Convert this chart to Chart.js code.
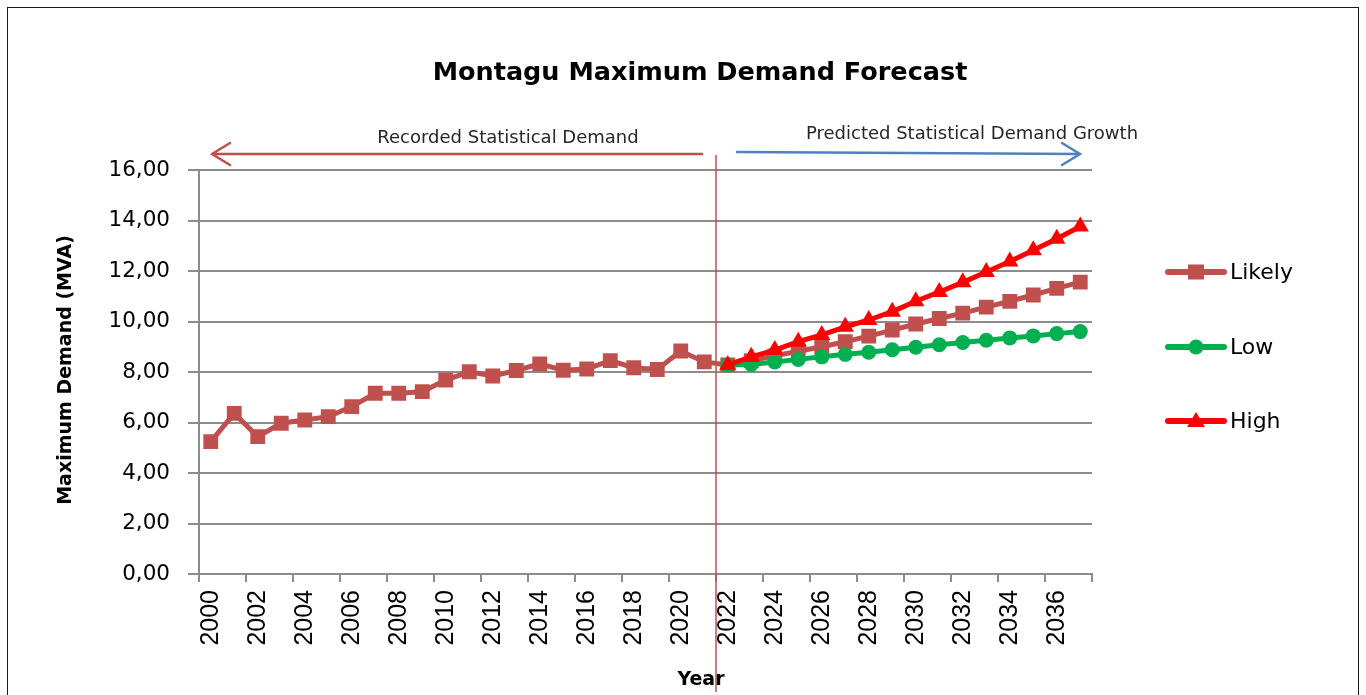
<!DOCTYPE html>
<html>
<head>
<meta charset="utf-8">
<title>Montagu Maximum Demand Forecast</title>
<script src="https://cdn.jsdelivr.net/npm/chart.js@4.4.1/dist/chart.umd.min.js"></script>
<style>
  html, body { margin: 0; padding: 0; background: #fff; overflow: hidden; }
  #wrap { position: relative; width: 1366px; height: 695px; }
  #frame { position: absolute; left: 7px; top: 7px; width: 1352px; height: 720px; border: 1px solid #1a1a1a; box-sizing: border-box; }
  #demandChart { position: absolute; left: 0; top: 0; }
</style>
</head>
<body>
<div id="wrap">
  <div id="frame"></div>
  <canvas id="demandChart" width="1366" height="695"></canvas>
</div>
<script>
const years = ["2000", "2001", "2002", "2003", "2004", "2005", "2006", "2007", "2008", "2009",
  "2010", "2011", "2012", "2013", "2014", "2015", "2016", "2017", "2018", "2019",
  "2020", "2021", "2022", "2023", "2024", "2025", "2026", "2027", "2028", "2029",
  "2030", "2031", "2032", "2033", "2034", "2035", "2036", "2037"];

const likely = [5.24, 6.36, 5.44, 5.97, 6.10, 6.23, 6.63, 7.16, 7.16, 7.22,
  7.68, 8.01, 7.84, 8.06, 8.32, 8.07, 8.12, 8.45, 8.17, 8.10,
  8.83, 8.40, 8.28, 8.45, 8.64, 8.82, 9.00, 9.20, 9.42, 9.66,
  9.90, 10.12, 10.33, 10.57, 10.80, 11.05, 11.31, 11.56];

const low = [null, null, null, null, null, null, null, null, null, null,
  null, null, null, null, null, null, null, null, null, null,
  null, null, 8.28, 8.30, 8.40, 8.50, 8.60, 8.70, 8.78, 8.88,
  8.98, 9.08, 9.17, 9.26, 9.35, 9.43, 9.52, 9.60];

const high = [null, null, null, null, null, null, null, null, null, null,
  null, null, null, null, null, null, null, null, null, null,
  null, null, 8.28, 8.60, 8.87, 9.20, 9.47, 9.79, 10.06, 10.39,
  10.80, 11.17, 11.55, 11.96, 12.38, 12.82, 13.28, 13.76];

const yTicks = [0, 2, 4, 6, 8, 10, 12, 14, 16];
const forecastStart = "2022";

const likelyColor = "#c0504d";
const lowColor = "#00b050";
const highColor = "#ff0000";
const gridColor = "#8c8c8c";
const labelFont = "DejaVu Sans";

function drawMarker(ctx, style, x, y, color) {
  ctx.fillStyle = color;
  ctx.beginPath();
  if (style === "rect") {
    ctx.rect(x - 8, y - 7.5, 16, 15);
  } else if (style === "circle") {
    ctx.arc(x, y, 7.5, 0, Math.PI * 2);
  } else {
    ctx.moveTo(x, y - 9);
    ctx.lineTo(x + 9, y + 6);
    ctx.lineTo(x - 9, y + 6);
    ctx.closePath();
  }
  ctx.fill();
}

const overlay = {
  id: "overlay",
  afterDraw(chart) {
    const ctx = chart.ctx;
    const xs = chart.scales.x;
    const area = chart.chartArea;
    ctx.save();

    // divider between recorded and predicted years
    const split = years.indexOf(forecastStart);
    const divX = (xs.getPixelForValue(split - 1) + xs.getPixelForValue(split)) / 2;
    ctx.strokeStyle = likelyColor;
    ctx.lineWidth = 1.5;
    ctx.beginPath();
    ctx.moveTo(divX, 155);
    ctx.lineTo(divX, 692);
    ctx.stroke();

    // arrows
    ctx.lineWidth = 2.5;
    ctx.lineCap = "round";
    ctx.strokeStyle = likelyColor;
    ctx.beginPath();
    ctx.moveTo(divX - 14, 154);
    ctx.lineTo(area.left + 13, 154);
    ctx.moveTo(area.left + 31, 143);
    ctx.lineTo(area.left + 13, 154);
    ctx.lineTo(area.left + 31, 165);
    ctx.stroke();

    ctx.strokeStyle = "#4f81bd";
    ctx.beginPath();
    ctx.moveTo(divX + 21, 152);
    ctx.lineTo(area.right - 12, 154);
    ctx.moveTo(area.right - 30, 143);
    ctx.lineTo(area.right - 12, 154);
    ctx.lineTo(area.right - 30, 165);
    ctx.stroke();

    // title and annotations
    ctx.fillStyle = "#000";
    ctx.textAlign = "center";
    ctx.textBaseline = "alphabetic";
    ctx.font = "bold 25.5px '" + labelFont + "'";
    ctx.fillText("Montagu Maximum Demand Forecast", 700, 80);

    ctx.fillStyle = "#262626";
    ctx.font = "18px '" + labelFont + "'";
    ctx.fillText("Recorded Statistical Demand", 508, 143);
    ctx.fillText("Predicted Statistical Demand Growth", 972, 139);

    // axis titles
    ctx.fillStyle = "#000";
    ctx.font = "bold 19px '" + labelFont + "'";
    ctx.fillText("Year", 701, 685);
    ctx.save();
    ctx.translate(66, 370);
    ctx.rotate(-Math.PI / 2);
    ctx.textBaseline = "middle";
    ctx.fillText("Maximum Demand (MVA)", 0, 0);
    ctx.restore();

    // legend
    const entries = [
      { label: "Likely", color: likelyColor, style: "rect", y: 272 },
      { label: "Low", color: lowColor, style: "circle", y: 347 },
      { label: "High", color: highColor, style: "triangle", y: 421 }
    ];
    ctx.font = "22px '" + labelFont + "'";
    ctx.textAlign = "left";
    ctx.textBaseline = "middle";
    entries.forEach(e => {
      ctx.strokeStyle = e.color;
      ctx.lineWidth = 6;
      ctx.lineCap = "round";
      ctx.beginPath();
      ctx.moveTo(1168, e.y);
      ctx.lineTo(1224, e.y);
      ctx.stroke();
      drawMarker(ctx, e.style, 1196, e.y, e.color);
      ctx.fillStyle = "#000";
      ctx.fillText(e.label, 1230, e.y + 1);
    });

    ctx.restore();
  }
};

const ctx = document.getElementById("demandChart").getContext("2d");

new Chart(ctx, {
  type: "line",
  data: {
    labels: years,
    datasets: [
      {
        label: "Likely",
        data: likely,
        borderColor: likelyColor,
        backgroundColor: likelyColor,
        borderWidth: 5,
        pointStyle: "rect",
        pointRadius: 10.5,
        pointBorderWidth: 0,
        order: 3
      },
      {
        label: "Low",
        data: low,
        borderColor: lowColor,
        backgroundColor: lowColor,
        borderWidth: 5,
        pointStyle: "circle",
        pointRadius: 7.5,
        pointBorderWidth: 0,
        order: 2
      },
      {
        label: "High",
        data: high,
        borderColor: highColor,
        backgroundColor: highColor,
        borderWidth: 5,
        pointStyle: "triangle",
        pointRadius: 10,
        pointBorderWidth: 0,
        order: 1
      }
    ]
  },
  options: {
    responsive: false,
    devicePixelRatio: 1,
    animation: false,
    layout: { padding: { left: 0, top: 170, right: 274, bottom: 0 } },
    plugins: {
      legend: { display: false },
      title: { display: false },
      tooltip: { enabled: false }
    },
    scales: {
      x: {
        offset: true,
        grid: {
          offset: true,
          drawOnChartArea: false,
          tickLength: 8,
          lineWidth: 2,
          color: c => (c.index === undefined || c.index % 2 === 0) ? gridColor : "rgba(0,0,0,0)"
        },
        border: { color: gridColor, width: 2 },
        ticks: {
          autoSkip: false,
          minRotation: 90,
          maxRotation: 90,
          padding: 8,
          color: "#000",
          font: { family: "Liberation Sans", size: 25 },
          callback: function (value, index) {
            return index % 2 === 0 ? this.getLabelForValue(value) : "";
          }
        },
        afterFit: scale => { scale.height = 121; }
      },
      y: {
        min: yTicks[0],
        max: yTicks[yTicks.length - 1],
        afterBuildTicks: scale => { scale.ticks = yTicks.map(v => ({ value: v })); },
        grid: { color: gridColor, lineWidth: 2, tickLength: 11 },
        border: { color: gridColor, width: 2 },
        ticks: {
          padding: 18,
          color: "#000",
          font: { family: labelFont, size: 21.5 },
          callback: v => v.toFixed(2).replace(".", ",")
        },
        afterFit: scale => { scale.width = 199; }
      }
    }
  },
  plugins: [overlay]
});
</script>
</body>
</html>
